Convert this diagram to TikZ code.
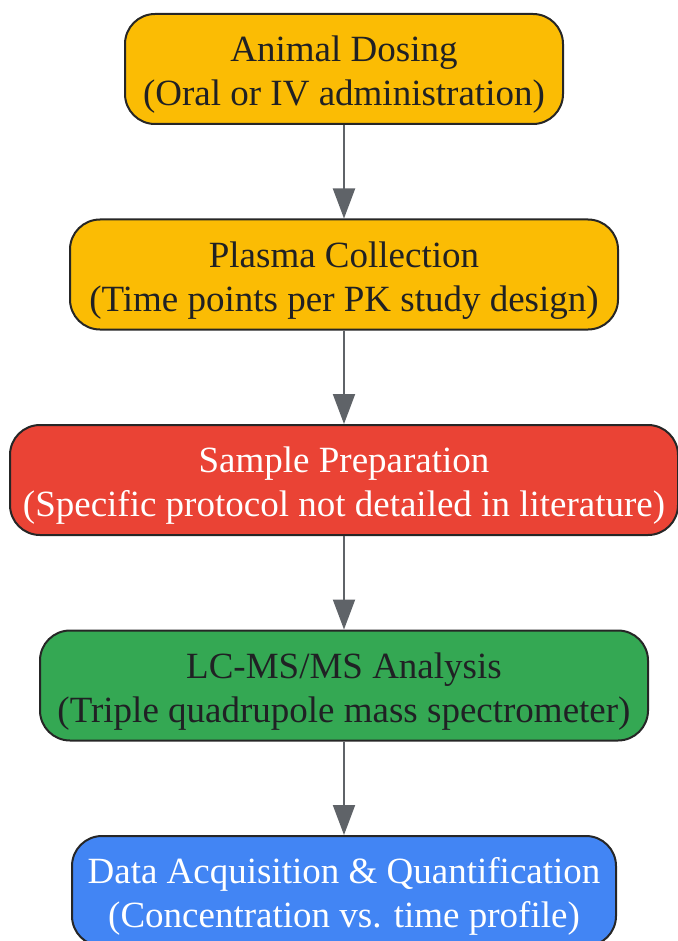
\documentclass[tikz,border=0pt]{standalone}
\usepackage{fontspec}
\setmainfont{Liberation Serif}
\usetikzlibrary{positioning}
\usetikzlibrary{arrows.meta}

\definecolor{gyellow}{HTML}{FBBC04}
\definecolor{gred}{HTML}{EA4335}
\definecolor{ggreen}{HTML}{34A853}
\definecolor{gblue}{HTML}{4285F4}
\definecolor{gline}{HTML}{5F6368}
\definecolor{gtext}{HTML}{202124}
\definecolor{gborder}{HTML}{262626}

% a little extra room above the first line
\newcommand{\toppad}{\rule{0pt}{37pt}}

\tikzset{
  stage/.style = {draw=gborder, line width=2pt, rounded corners=30pt,
    minimum height=110pt, align=center, inner xsep=0pt,
    font=\fontsize{37}{44}\selectfont},
  flow/.style = {draw=gline, line width=2pt,
    -{Triangle[width=22pt,length=30pt]}}
}

\begin{document}
\begin{tikzpicture}[x=1pt, y=-1pt, node distance=93.5pt]
      \useasboundingbox (0,0) rectangle (677,941);

      % the five stages, top to bottom
      \node[stage, fill=gyellow, text=gtext, minimum width=438pt] (dosing) at (344,69)
        {\toppad Animal Dosing\\(Oral or IV administration)};
      \node[stage, fill=gyellow, text=gtext, minimum width=548pt, below=of dosing] (plasma)
        {\toppad Plasma Collection\\(Time points per PK study design)};
      \node[stage, fill=gred, text=white, minimum width=668pt, below=of plasma] (prep)
        {\toppad Sample Preparation\\(Specific protocol not detailed in literature)};
      \node[stage, fill=ggreen, text=gtext, minimum width=608pt, below=of prep] (lcms)
        {\toppad LC-MS/MS Analysis\\(Triple quadrupole mass spectrometer)};
      \node[stage, fill=gblue, text=white, minimum width=544pt, below=of lcms] (quant)
        {\toppad Data Acquisition \& Quantification\\(Concentration vs. time profile)};

      % connectors
      \draw[flow] (dosing) -- (plasma);
      \draw[flow] (plasma) -- (prep);
      \draw[flow] (prep) -- (lcms);
      \draw[flow] (lcms) -- (quant);
    \end{tikzpicture}
\end{document}
